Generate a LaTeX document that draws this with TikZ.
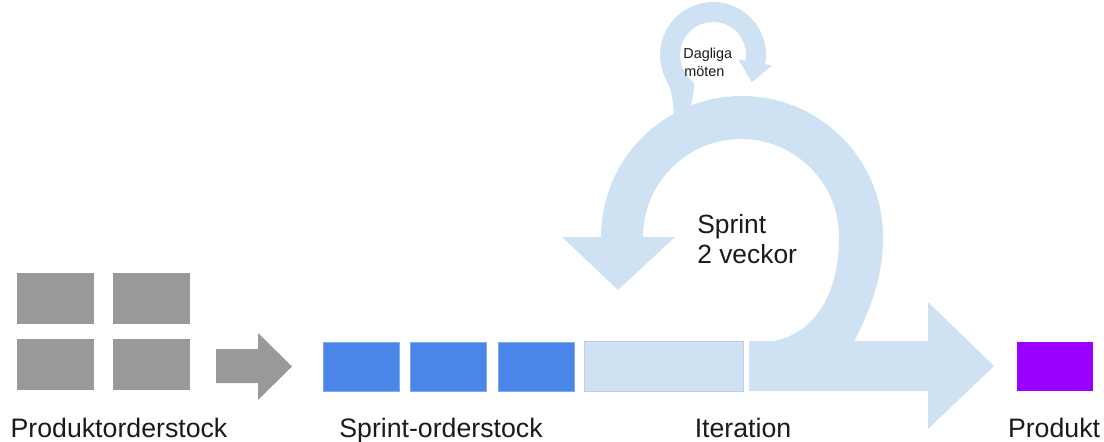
\documentclass[tikz,border=0pt]{standalone}
\usepackage{fontspec}
\setmainfont{Liberation Sans}
\definecolor{boxgray}{HTML}{999999}
\definecolor{boxblue}{HTML}{4A86E8}
\definecolor{lightblue}{HTML}{CFE2F3}
\definecolor{boxpurple}{HTML}{9900FF}
\definecolor{txt}{HTML}{1A1A1A}
\begin{document}
\begin{tikzpicture}[x=0.02cm,y={(0,-0.02cm)},
  pbox/.style={anchor=north west, inner sep=0, outer sep=0, draw=none},
  graybox/.style={pbox, fill=boxgray, minimum width=1.54cm, minimum height=1.02cm},
  bluebox/.style={pbox, fill=boxblue, draw=boxblue!70!white, line width=0.3pt, minimum width=1.53cm, minimum height=0.98cm},
  lightbox/.style={pbox, fill=lightblue, draw=lightblue!80!gray, line width=0.4pt, minimum width=3.18cm, minimum height=1.0cm},
  purplebox/.style={pbox, fill=boxpurple, minimum width=1.52cm, minimum height=0.98cm},
  label/.style={anchor=base, inner sep=0, text=txt, font=\fontsize{15.2}{18}\selectfont},
  sprintlabel/.style={anchor=base west, inner sep=0, text=txt, font=\fontsize{15}{18}\selectfont},
  smalllabel/.style={anchor=base west, inner sep=0, text=txt, font=\fontsize{8.2}{10}\selectfont},
  lightshape/.style={fill=lightblue, draw=none}
]
\useasboundingbox (0,0) rectangle (1104,441);

% product backlog boxes
\node[graybox] (g1) at (17,273) {};
\node[graybox] (g2) at (113,273) {};
\node[graybox] (g3) at (17,339) {};
\node[graybox] (g4) at (113,339) {};

% gray arrow
\fill[boxgray] (216,349) -- (258,349) -- (258,333) -- (292,366.5) -- (258,400) -- (258,383) -- (216,383) -- cycle;

% sprint backlog boxes
\node[bluebox] (b1) at (323,342) {};
\node[bluebox] (b2) at (410,342) {};
\node[bluebox] (b3) at (498,342) {};

% iteration box
\node[lightbox] (it) at (584,341) {};

% big ring arrow (sprint)
\fill[lightshape] (850,350) .. controls (870,310) and (883,280) .. (883,237)
  arc[start angle=0, end angle=-180, radius=141]
  -- (562,237) -- (618,290) -- (675,237) -- (643,237)
  arc[start angle=180, end angle=360, radius=98]
  .. controls (839,300) and (810,335) .. (773,341)
  -- (773,350) -- cycle;

% small loop arrow (daily meetings)
\fill[lightshape] (674,120) .. controls (674,105) and (672,90) .. (667.1,81.5)
  arc[start angle=150, end angle=370, radius=53]
  -- (772.1,65.4) -- (751.8,82.2) -- (738.6,59.5) -- (745.5,60.7)
  arc[start angle=370, end angle=130, radius=33]
  .. controls (698,85.4) and (690,100) .. (690,118) -- cycle;

% main horizontal arrow
\fill[lightshape] (749,341) -- (928,341) -- (928,302) -- (994,366) -- (928,429) -- (928,391) -- (749,391) -- cycle;

% product
\node[purplebox] (p) at (1017,342) {};

% labels
\node[label] (lprod) at (119,437) {Produktorderstock};
\node[label] (lsprint) at (441,437) {Sprint-orderstock};
\node[label] (liter) at (743,437) {Iteration};
\node[label] (lprodukt) at (1054,437) {Produkt};

\node[sprintlabel] (s1) at (697,233) {Sprint};
\node[sprintlabel] (s2) at (697,263) {2 veckor};

\node[smalllabel] (d1) at (683,58) {Dagliga};
\node[smalllabel] (d2) at (684,76) {möten};
\end{tikzpicture}
\end{document}
